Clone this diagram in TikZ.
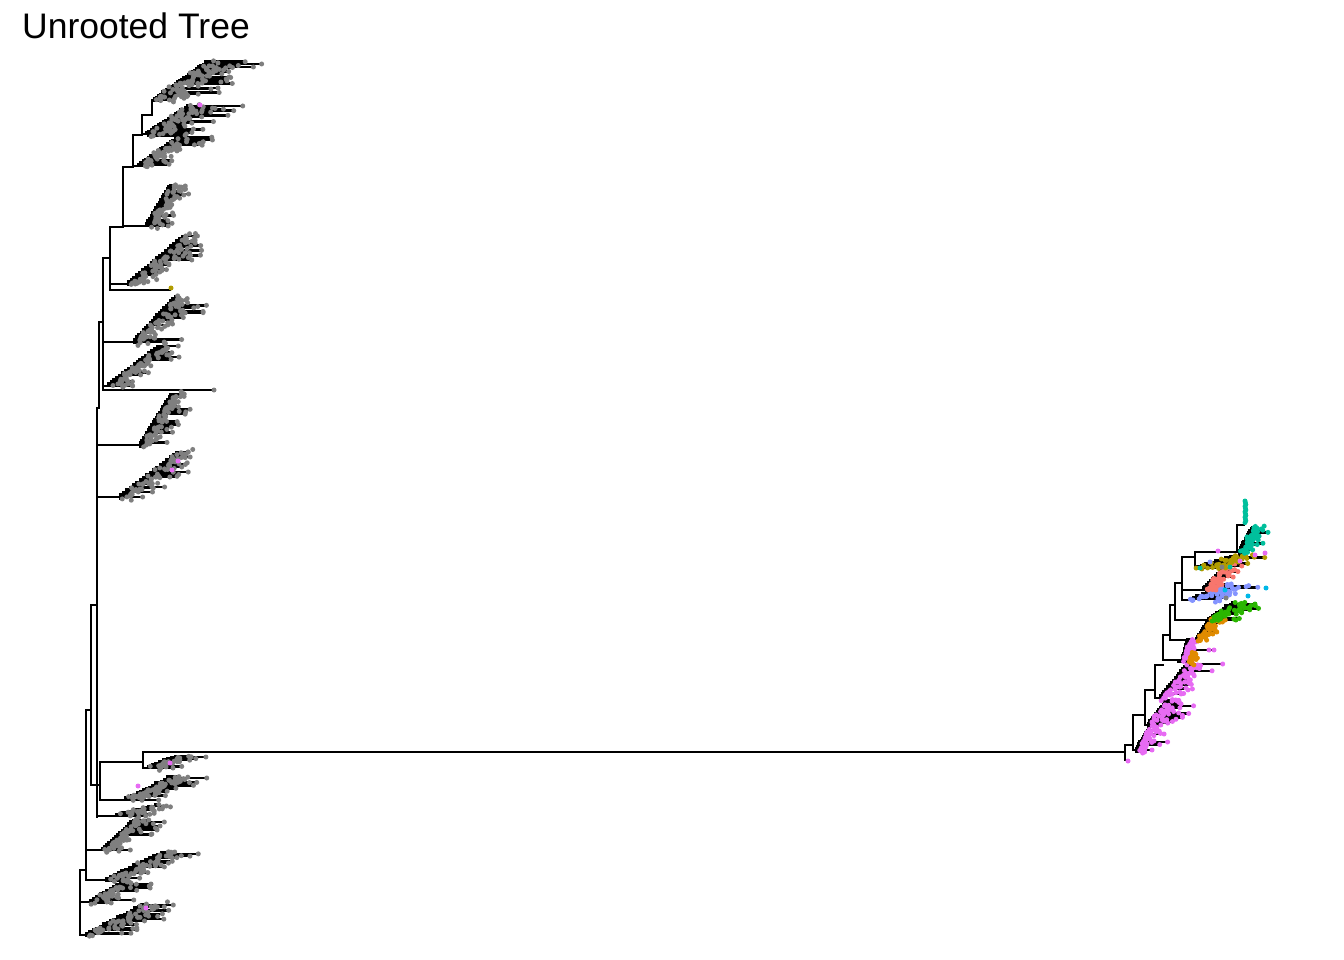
\documentclass[tikz,border=0pt]{standalone}
\usepackage{fontspec}
\setmainfont{Liberation Sans}
\definecolor{tipgray}{HTML}{7F7F7F}
\definecolor{pinkc}{HTML}{E76BF3}
\definecolor{orangec}{HTML}{E08B00}
\definecolor{greenc}{HTML}{2AB600}
\definecolor{tealc}{HTML}{00BF9C}
\definecolor{bluec}{HTML}{8494FF}
\definecolor{cyanc}{HTML}{00B8E7}
\definecolor{salmonc}{HTML}{F8766D}
\definecolor{olivec}{HTML}{B09C00}
\tikzset{br/.style={line width=2.6pt, black, line cap=rect}}
\gdef\dotlist{}
% queue a tip point, drawn at the end so that points lie above the branches
\newcommand{\tipdot}[3]{\xdef\dotlist{\unexpanded\expandafter{\dotlist}\noexpand\fill[#1] (#2,#3) circle[radius=2.5pt];}}
% #1 parent x, #2 spine x at bottom, #3 y bottom, #4 y top, #5 spine x at top,
% #6 least tip offset, #7 extra tip offset, #8 number of steps, #9 colour
\newcommand{\clade}[9]{%
  \draw[br] (#1,#3) -- (#2,#3);
  \foreach \j in {0,...,#8}{%
    \pgfmathsetmacro{\clT}{\j/#8}%
    \pgfmathsetmacro{\clY}{#3+(#4-#3)*\clT}%
    \pgfmathsetmacro{\clSX}{#2+(#5-#2)*\clT}%
    \pgfmathsetmacro{\clNY}{#3+(#4-#3)*(\j+1)/#8}%
    \pgfmathsetmacro{\clNX}{#2+(#5-#2)*(\j+1)/#8}%
    \pgfmathsetmacro{\clTX}{\clSX+#6+#7*rnd^1.6}%
    \pgfmathsetmacro{\clMX}{\clSX+(\clTX-\clSX)*rnd}%
    \pgfmathsetmacro{\clMY}{\clY+6*(rnd-0.5)}%
    \pgfmathsetmacro{\clQX}{\clSX+3+0.45*#7*rnd}%
    \pgfmathsetmacro{\clQY}{\clY+7*(rnd-0.5)}%
    \pgfmathsetmacro{\clRX}{\clSX+2+0.3*#7*rnd}%
    \pgfmathsetmacro{\clRY}{\clY+5*(rnd-0.5)}%
    \draw[br] (\clSX,\clY) -- (\clTX,\clY);
    \draw[br] (\clSX,\clMY) -- (\clMX,\clMY);
    \ifnum\j<#8 \draw[br] (\clSX,\clY) |- (\clNX,\clNY);\fi
    \tipdot{#9}{\clTX}{\clY}%
    \tipdot{#9}{\clMX}{\clMY}%
    \tipdot{#9}{\clQX}{\clQY}%
    \tipdot{#9}{\clRX}{\clRY}%
  }%
}
\begin{document}
\begin{tikzpicture}[x=1pt,y=-1pt]
\useasboundingbox (0,0) rectangle (1344,960);
\pgfmathsetseed{12}
\node[anchor=base west, font=\fontsize{35.5}{42}\selectfont, inner sep=0pt] (title) at (22,39) {Unrooted Tree};

% ---------- left backbone ----------
\coordinate (u97t) at (97,408); \coordinate (u97b) at (97,817);
\draw[br] (u97t) -- (u97b);
\draw[br] (97,408) -- (99,408); \draw[br] (99,322) -- (99,408);
\draw[br] (99,322) -- (103,322); \draw[br] (103,258) -- (103,390);
\draw[br] (103,258) -- (110,258); \draw[br] (110,227) -- (110,290);
\draw[br] (110,227) -- (123,227); \draw[br] (123,167) -- (123,227);
\draw[br] (123,167) -- (133,167); \draw[br] (133,135) -- (133,167);
\draw[br] (133,135) -- (142,135); \draw[br] (142,115) -- (142,135);
\draw[br] (142,115) -- (152,115); \draw[br] (152,100) -- (152,115);

\draw[br] (91,605) -- (97,605); \draw[br] (91,605) -- (91,785);
\draw[br] (91,785) -- (100,785); \draw[br] (100,762) -- (100,800);
\draw[br] (100,762) -- (143,762); \draw[br] (143,752) -- (143,768);
\draw[br] (86,710) -- (91,710); \draw[br] (86,710) -- (86,880);
\draw[br] (80,870) -- (86,870); \draw[br] (80,870) -- (80,935);

% ---------- upper left clades ----------
\clade{152}{154}{100}{64}{205}{4}{60}{24}{tipgray}
\clade{142}{146}{134}{106}{190}{4}{50}{18}{tipgray}
\clade{133}{138}{166}{140}{175}{4}{35}{15}{tipgray}
\clade{123}{146}{226}{186}{170}{4}{35}{15}{tipgray}
\clade{110}{128}{284}{236}{185}{4}{40}{20}{tipgray}
\draw[br] (110,290) -- (170,290); \tipdot{olivec}{171}{288}
\clade{103}{134}{342}{298}{175}{4}{50}{18}{tipgray}
\clade{103}{108}{386}{346}{160}{4}{30}{18}{tipgray}
\draw[br] (103,390) -- (214,390); \tipdot{tipgray}{214}{390}
\clade{97}{140}{445}{394}{172}{4}{25}{20}{tipgray}
\clade{97}{120}{497}{452}{180}{4}{40}{18}{tipgray}

% ---------- lower left clades ----------
\clade{143}{148}{768}{757}{175}{4}{28}{7}{tipgray}
\clade{100}{125}{800}{778}{170}{4}{35}{15}{tipgray}
\clade{97}{116}{816}{806}{155}{4}{45}{6}{tipgray}
\clade{86}{102}{850}{820}{135}{4}{30}{15}{tipgray}
\clade{86}{106}{880}{852}{165}{4}{35}{15}{tipgray}
\clade{80}{90}{902}{884}{120}{4}{38}{9}{tipgray}
\clade{80}{86}{935}{905}{145}{4}{45}{17}{tipgray}

\tipdot{pinkc}{200}{105}
\tipdot{pinkc}{178}{461}
\tipdot{pinkc}{172}{470}
\tipdot{pinkc}{170}{763}
\tipdot{pinkc}{138}{786}
\tipdot{pinkc}{146}{908}

% ---------- long branch ----------
\coordinate (lb) at (143,752); \coordinate (rr) at (1125,752);
\draw[br] (lb) -- (rr);

% ---------- right group ----------
\draw[br] (1125,745) -- (1125,760); \draw[br] (1125,760) -- (1128,760); \tipdot{pinkc}{1128}{761}
\draw[br] (1125,745) -- (1133,745); \draw[br] (1133,715) -- (1133,750);
\clade{1133}{1136}{750}{730}{1148}{3}{26}{10}{pinkc}
\draw[br] (1133,715) -- (1145,715); \draw[br] (1145,690) -- (1145,725);
\clade{1145}{1148}{725}{702}{1166}{3}{30}{12}{pinkc}
\draw[br] (1145,690) -- (1155,690); \draw[br] (1155,665) -- (1155,698);
\clade{1155}{1160}{698}{664}{1188}{3}{36}{15}{pinkc}
\draw[br] (1155,665) -- (1163,665); \draw[br] (1163,635) -- (1163,660);
\clade{1163}{1182}{660}{642}{1187}{2}{8}{8}{pinkc}
\clade{1178}{1188}{662}{654}{1192}{2}{7}{4}{orangec}
\draw[br] (1185,650) -- (1214,650); \tipdot{pinkc}{1209}{650}\tipdot{pinkc}{1214}{650}
\draw[br] (1163,635) -- (1170,635); \draw[br] (1170,605) -- (1170,640);
\clade{1170}{1196}{640}{618}{1210}{2}{16}{11}{orangec}
\tipdot{pinkc}{1192}{641}
\draw[br] (1170,605) -- (1175,605); \draw[br] (1175,583) -- (1175,620);
\clade{1175}{1208}{620}{604}{1232}{2}{38}{11}{greenc}
\draw[br] (1175,583) -- (1182,583); \draw[br] (1182,557) -- (1182,600);
\clade{1182}{1190}{600}{586}{1225}{2}{48}{11}{bluec}
\tipdot{cyanc}{1225}{590}\tipdot{cyanc}{1266}{588}\tipdot{cyanc}{1248}{596}\tipdot{tipgray}{1226}{598}
\clade{1182}{1203}{590}{566}{1226}{3}{20}{13}{salmonc}
\draw[br] (1182,557) -- (1195,557); \draw[br] (1195,552) -- (1195,568);
\clade{1195}{1196}{568}{556}{1235}{2}{38}{8}{olivec}
\tipdot{tealc}{1200}{568}\tipdot{tealc}{1230}{567}\tipdot{bluec}{1210}{562}
\tipdot{pinkc}{1240}{561}\tipdot{pinkc}{1255}{555}\tipdot{pinkc}{1265}{553}\tipdot{tipgray}{1222}{567}
\draw[br] (1195,552) -- (1237,552); \draw[br] (1237,525) -- (1237,552);
\clade{1237}{1239}{552}{528}{1252}{3}{22}{11}{tealc}
\tipdot{pinkc}{1218}{551}
\draw[br] (1237,525) -- (1244,525);
\foreach \k in {0,...,12}{\pgfmathsetmacro{\kx}{1245+0.4*(\k-3*floor(\k/3))}\pgfmathsetmacro{\ky}{501+1.8*\k}\tipdot{tealc}{\kx}{\ky}}

% ---------- tip points on top ----------
\dotlist
\end{tikzpicture}
\end{document}
